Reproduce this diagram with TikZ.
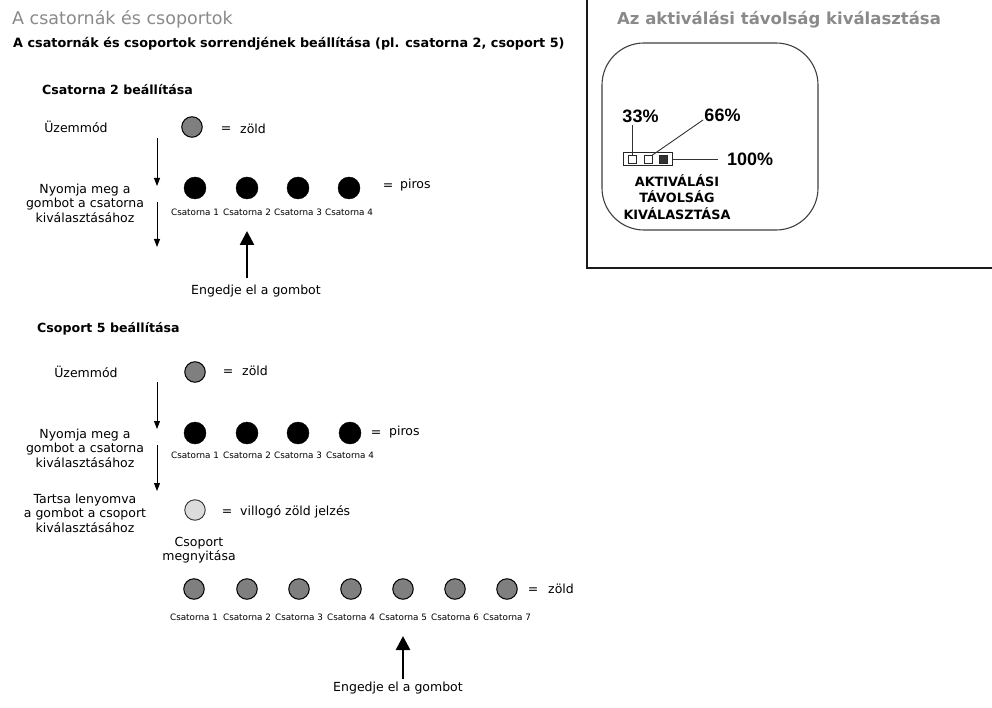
\documentclass[tikz,border=0pt]{standalone}
\usepackage{fontspec}
\setmainfont{DejaVu Sans}
\newfontfamily\pctfont{Liberation Sans}
\usetikzlibrary{arrows.meta}
\definecolor{ttlgray}{HTML}{8A8A8A}
\definecolor{ledgray}{HTML}{7F7F7F}
\definecolor{ledlight}{HTML}{DCDCDC}
\definecolor{framec}{HTML}{1A1A1A}
\begin{document}
\begin{tikzpicture}[x=1pt,y=-1pt,
  ttltext/.style={text=ttlgray,font=\fontsize{17.5}{20}\selectfont,anchor=west,inner sep=0},
  subhead/.style={font=\bfseries\fontsize{12.8}{15}\selectfont,anchor=west,inner sep=0},
  secthead/.style={font=\bfseries\fontsize{12.6}{15}\selectfont,anchor=west,inner sep=0},
  body/.style={font=\fontsize{12.5}{14.6}\selectfont,inner sep=0,align=center},
  chlabel/.style={font=\fontsize{8.8}{10}\selectfont,inner sep=0},
  ledg/.style={circle,draw=black,line width=1pt,fill=ledgray,minimum size=20.5pt,inner sep=0},
  ledr/.style={circle,draw=black,fill=black,minimum size=22pt,inner sep=0},
  ledl/.style={circle,draw=black!80,line width=0.9pt,fill=ledlight,minimum size=20.5pt,inner sep=0},
  steparrow/.style={line width=0.9pt,-{Triangle[length=8pt,width=6pt]}},
  bigarrow/.style={line width=2.6pt,-{Triangle[length=14pt,width=14pt]}},
  panel/.style={font=\bfseries\fontsize{12.8}{16.5}\selectfont,inner sep=0,align=center},
  pct/.style={font=\pctfont\bfseries\fontsize{18}{20}\selectfont,inner sep=0},
  leader/.style={black!80,line width=0.9pt},
]
\useasboundingbox (0,0) rectangle (992,708);
\fill[white] (0,0) rectangle (992,708);

% ---------- frame of right panel ----------
\draw[framec,line width=2pt] (587,0) -- (587,268) -- (993,268);

% ---------- left titles ----------
\node[ttltext] (t1) at (12,19) {A csatornák és csoportok};
\node[subhead] (t2) at (13,44) {A csatornák és csoportok sorrendjének beállítása (pl. csatorna 2, csoport 5)};

% ---------- section 1 ----------
\node[secthead] (h1) at (42,90) {Csatorna 2 beállítása};
\node[body] (u1) at (76,127) {Üzemmód};
\node[ledg] (g1) at (192,127) {};
\node[body] (eq1) at (226,130) {=};
\node[body,anchor=west] (z1) at (240,129) {zöld};

\coordinate (a1s) at (157,138);
\coordinate (a1e) at (157,186);
\coordinate (a2s) at (157,202);
\coordinate (a2e) at (157,247);
\draw[steparrow] (a1s) -- (a1e);
\draw[steparrow] (a2s) -- (a2e);
\node[body] (n1) at (85,203) {Nyomja meg a\\gombot a csatorna\\kiválasztásához};

\foreach \i/\x in {1/195,2/247,3/298,4/349}{
  \node[ledr] (r1\i) at (\x,188) {};
  \node[chlabel] (l1\i) at (\x,212) {Csatorna \i};
}
\node[body] (eq2) at (388,187) {=};
\node[body,anchor=west] (p1) at (400,185) {piros};

\coordinate (b1s) at (247,278);
\draw[bigarrow] (b1s) -- (l12.south |- 0,231);
\node[body] (e1) at (256,291) {Engedje el a gombot};

% ---------- section 2 ----------
\node[secthead] (h2) at (37,329) {Csoport 5 beállítása};
\node[body] (u2) at (86,372) {Üzemmód};
\node[ledg] (g2) at (195,372) {};
\node[body] (eq3) at (228,373) {=};
\node[body,anchor=west] (z2) at (242,371) {zöld};

\coordinate (a3s) at (157,382);
\coordinate (a3e) at (157,429);
\coordinate (a4s) at (157,445);
\coordinate (a4e) at (157,491);
\draw[steparrow] (a3s) -- (a3e);
\draw[steparrow] (a4s) -- (a4e);
\node[body] (n2) at (85,448) {Nyomja meg a\\gombot a csatorna\\kiválasztásához};

\foreach \i/\x in {1/195,2/247,3/298,4/350}{
  \node[ledr] (r2\i) at (\x,433) {};
  \node[chlabel] (l2\i) at (\x,455) {Csatorna \i};
}
\node[body] (eq4) at (376,434) {=};
\node[body,anchor=west] (p2) at (389,432) {piros};

\node[body] (n3) at (85,513) {Tartsa lenyomva\\a gombot a csoport\\kiválasztásához};
\node[ledl] (w1) at (195,510) {};
\node[body] (eq5) at (227,513) {=};
\node[body,anchor=west] (v1) at (240,512) {villogó zöld jelzés};
\node[body] (cs) at (199,550) {Csoport\\megnyitása};

\foreach \i/\x in {1/194,2/247,3/299,4/351,5/403,6/455,7/507}{
  \node[ledg] (g3\i) at (\x,589) {};
  \node[chlabel] (l3\i) at (\x,617) {Csatorna \i};
}
\node[body] (eq6) at (533,591) {=};
\node[body,anchor=west] (z3) at (548,589) {zöld};

\coordinate (b2s) at (403,679);
\draw[bigarrow] (b2s) -- (403,636);
\node[body] (e2) at (398,688) {Engedje el a gombot};

% ---------- right panel ----------
\node[ttltext,font=\bfseries\fontsize{16.5}{19}\selectfont] (rt) at (617,20) {Az aktiválási távolság kiválasztása};
\draw[black!75,line width=1.1pt,rounded corners=42pt] (602,43) rectangle (818,230);
\node[draw=black!85,line width=1pt,minimum width=49pt,minimum height=13pt,inner sep=0] (bar) at (647.5,159.5) {};
\node[draw=black!85,line width=0.8pt,fill=white,minimum size=8pt,inner sep=0] (s1) at (632,159.5) {};
\node[draw=black!85,line width=0.8pt,fill=white,minimum size=8pt,inner sep=0] (s2) at (648,159.5) {};
\node[draw=black!85,line width=0.8pt,fill=black!80,minimum size=8pt,inner sep=0] (s3) at (663,159.5) {};
\node[pct] (p33) at (640.5,116) {33\%};
\node[pct] (p66) at (722.5,115) {66\%};
\node[pct,anchor=west] (p100) at (727,159) {100\%};
\coordinate (c33) at (632,125);
\coordinate (c66) at (703,120);
\coordinate (c100) at (718,159.5);
\draw[leader] (s1.north) -- (c33);
\draw[leader] (s2.north east) -- (c66);
\draw[leader] (bar.east) -- (c100);
\node[panel] (akt) at (677,197) {AKTIVÁLÁSI\\TÁVOLSÁG\\KIVÁLASZTÁSA};
\end{tikzpicture}
\end{document}
